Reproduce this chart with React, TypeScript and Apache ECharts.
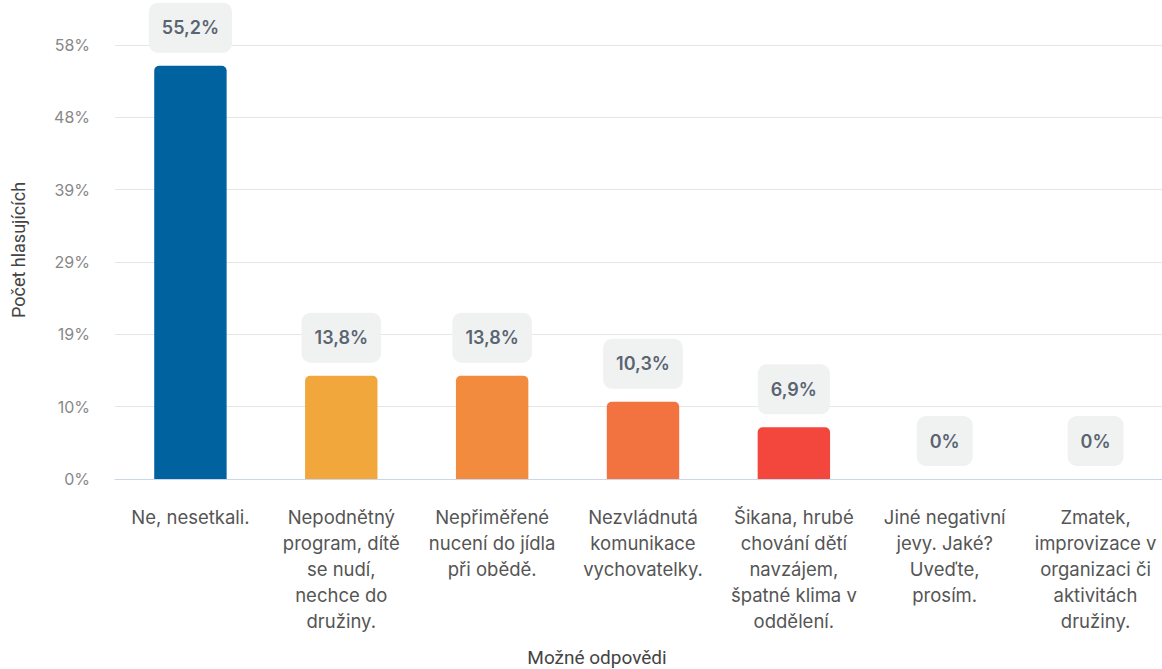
import React, { useEffect, useRef } from "react";
import * as echarts from "echarts";

const categories = [
  "Ne, nesetkali.",
  "Nepodnětný\nprogram, dítě\nse nudí,\nnechce do\ndružiny.",
  "Nepřiměřené\nnucení do jídla\npři obědě.",
  "Nezvládnutá\nkomunikace\nvychovatelky.",
  "Šikana, hrubé\nchování dětí\nnavzájem,\nšpatné klima v\noddělení.",
  "Jiné negativní\njevy. Jaké?\nUveďte,\nprosím.",
  "Zmatek,\nimprovizace v\norganizaci či\naktivitách\ndružiny.",
];
const values = [55.2, 13.8, 13.8, 10.3, 6.9, 0, 0];
const barColors = ["#00629f", "#f1a73c", "#f28b3e", "#f37340", "#f3473d", "#f3473d", "#f3473d"];
const axisMax = 57.96;
const axisInterval = 9.66;

export default function App() {
  const ref = useRef<HTMLDivElement>(null);
  useEffect(() => {
    document.body.style.margin = "0";
    const chart = echarts.init(ref.current!, null, { renderer: "svg" });
    chart.setOption({
      animation: false,
      grid: {
        left: 115,
        right: 0,
        top: 45,
        bottom: 190,
        containLabel: false,
        outerBoundsMode: "none",
      },
      xAxis: {
        type: "category",
        data: categories,
        name: "Možné odpovědi",
        nameLocation: "middle",
        nameGap: 168,
        nameTextStyle: {
          fontFamily: "Roboto",
          fontSize: 19,
          lineHeight: 20,
          color: "#444",
          padding: [0, 92, 0, 0],
        },
        axisLine: { lineStyle: { color: "#ccd6eb" } },
        axisTick: { show: false },
        axisLabel: {
          interval: 0,
          fontFamily: "Inter",
          fontSize: 18.5,
          color: "#555",
          lineHeight: 26,
          margin: 25,
          align: "center",
        },
      },
      yAxis: {
        type: "value",
        min: 0,
        max: axisMax,
        interval: axisInterval,
        name: "Počet hlasujících",
        nameLocation: "middle",
        nameGap: 88,
        nameTextStyle: { fontFamily: "Roboto", fontSize: 18, color: "#444", padding: [0, 0, 0, 24] },
        axisLine: { show: false },
        axisTick: { show: false },
        splitLine: { lineStyle: { color: "#e6e6e6" } },
        axisLabel: {
          fontFamily: "Inter",
          fontSize: 16,
          color: "#888",
          margin: 25,
          formatter: (v: number) => Math.round(v) + "%",
        },
      },
      series: [
        {
          type: "bar",
          data: values.map((v, i) => ({ value: v, itemStyle: { color: barColors[i] } })),
          barWidth: "48%",
          itemStyle: { borderRadius: [5, 5, 0, 0] },
          label: {
            show: true,
            position: "top",
            distance: 13,
            fontFamily: "Inter",
            fontSize: 18,
            fontWeight: 600,
            color: "#5b6471",
            backgroundColor: "#f0f2f2",
            borderRadius: 9,
            padding: [16, 13, 16, 13],
            formatter: (p: any) => String(p.value).replace(".", ",") + "%",
          },
        },
      ],
    });
    return () => chart.dispose();
  }, []);
  return (
    <div style={{ width: 1162, height: 669, overflow: "hidden", position: "relative" }}>
      <div ref={ref} style={{ width: 1171, height: 669 }} />
    </div>
  );
}
